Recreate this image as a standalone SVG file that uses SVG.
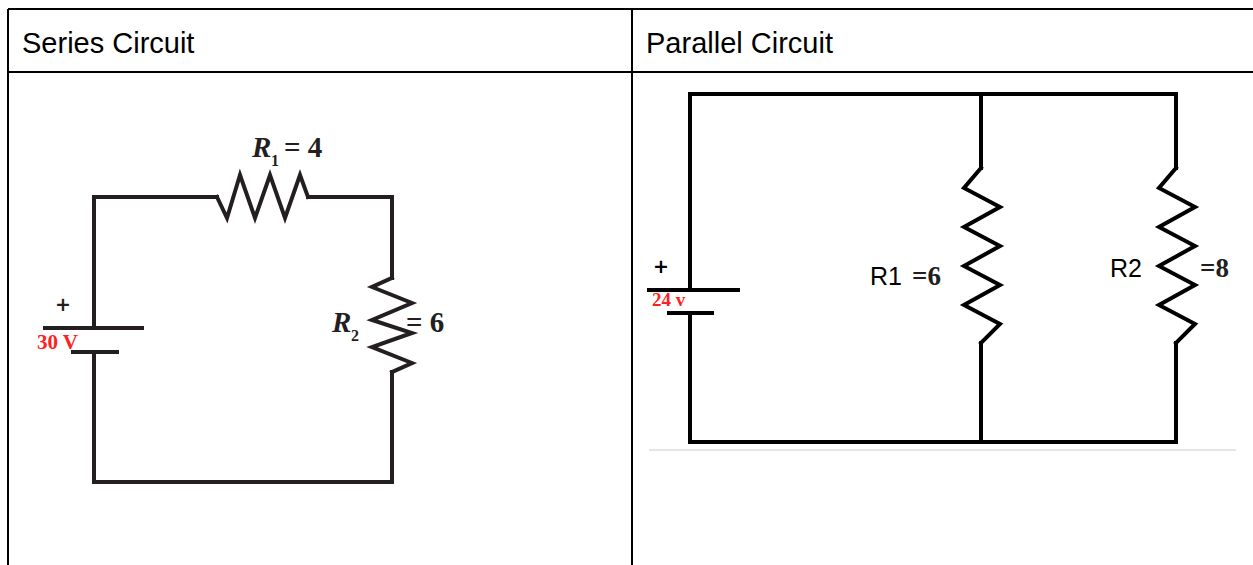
<svg xmlns="http://www.w3.org/2000/svg" width="1253" height="565" viewBox="0 0 1253 565">
<style>
.grid{stroke:#000;stroke-width:2;fill:none}
.hdr{font-family:"Liberation Sans",Arial,sans-serif;font-size:29px;fill:#000}
.ws{stroke:#231f20;stroke-width:4;fill:none;stroke-linejoin:miter;stroke-linecap:square}
.wp{stroke:#000;stroke-width:4;fill:none;stroke-linejoin:miter;stroke-linecap:square}
.ser{font-family:"Liberation Serif","Times New Roman",serif;font-weight:bold;fill:#231f20}
.it{font-style:italic}
.red{font-family:"Liberation Serif","Times New Roman",serif;font-weight:bold;fill:#ff2020}
.sans{font-family:"Liberation Sans",Arial,sans-serif;fill:#000}
.plus{font-family:"DejaVu Sans",sans-serif;font-weight:bold;font-size:19px;text-anchor:middle}
</style>
<rect width="1253" height="565" fill="#fff"/>
<g id="table">
<line class="grid" x1="8" y1="9" x2="1253" y2="9"/>
<line class="grid" x1="8" y1="72" x2="1253" y2="72"/>
<line class="grid" x1="8" y1="9" x2="8" y2="565"/>
<line class="grid" x1="632" y1="9" x2="632" y2="565"/>
<text class="hdr" x="22" y="53">Series Circuit</text>
<text class="hdr" x="646" y="53">Parallel Circuit</text>
</g>
<g id="series-connectors">
<polyline class="ws" points="94,328 94,197 217,197"/>
<polyline class="ws" points="308,197 392,197 392,278"/>
<polyline class="ws" points="392,372 392,482 94,482 94,352"/>
</g>
<g id="series-R1">
<polyline class="ws" points="217,197 227,218 240,175 255,218 270,175 285,218 300,175 308,197"/>
<text class="ser it" x="252" y="157" font-size="29">R</text>
<text class="ser" x="271" y="166" font-size="16">1</text>
<text class="ser" x="284" y="157" font-size="29">= 4</text>
</g>
<g id="series-R2">
<polyline class="ws" points="392,278 372,287 412,303 372,320 412,333 372,347 412,363 392,372"/>
<text class="ser it" x="332" y="332" font-size="29">R</text>
<text class="ser" x="351" y="341" font-size="16">2</text>
<text class="ser" x="406" y="332" font-size="29">= 6</text>
</g>
<g id="series-battery">
<line class="ws" x1="45" y1="328" x2="142" y2="328" stroke-linecap="butt"/>
<line class="ws" x1="73" y1="352" x2="117" y2="352" stroke-linecap="butt"/>
<text class="plus" x="63" y="311" fill="#231f20">+</text>
<text class="red" x="37" y="349" font-size="21">30 V</text>
</g>
<g id="parallel-connectors">
<polyline class="wp" points="690,290 690,94 1176,94 1176,168"/>
<polyline class="wp" points="981,94 981,168"/>
<polyline class="wp" points="690,313 690,442 1176,442 1176,343"/>
<polyline class="wp" points="981,442 981,343"/>
<line x1="649" y1="450" x2="1236" y2="450" stroke="#e6e6e6" stroke-width="2"/>
</g>
<g id="parallel-R1">
<polyline class="wp" points="981,168 964,188 1000,207 964,227 1000,246 964,266 1000,285 964,305 1000,324 981,343"/>
<text class="sans" x="870" y="285" font-size="25">R1</text>
<text class="ser" x="912" y="285" font-size="27" fill="#000">=6</text>
</g>
<g id="parallel-R2">
<polyline class="wp" points="1176,168 1159,188 1195,207 1159,227 1195,246 1159,266 1195,285 1159,305 1195,324 1176,343"/>
<text class="sans" x="1110" y="277" font-size="25">R2</text>
<text class="ser" x="1200" y="277" font-size="27" fill="#000">=8</text>
</g>
<g id="parallel-battery">
<line class="wp" x1="649" y1="290" x2="738" y2="290" stroke="#222" stroke-linecap="butt"/>
<line class="wp" x1="669" y1="313" x2="712" y2="313" stroke="#222" stroke-linecap="butt"/>
<text class="plus" x="661" y="273" fill="#000">+</text>
<text class="red" x="652" y="306" font-size="19">24 v</text>
</g>
</svg>
